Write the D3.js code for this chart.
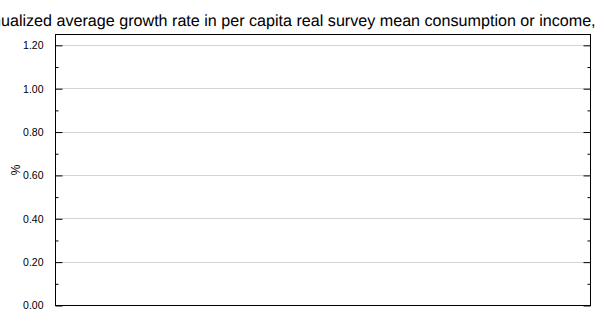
<!DOCTYPE html>
<html>
<head>
<meta charset="utf-8">
<script src="https://cdn.jsdelivr.net/npm/d3@7"></script>
<style>
  html, body { margin: 0; padding: 0; background: #fff; overflow: hidden; }
  svg { display: block; font-family: "Liberation Sans", Arial, sans-serif; }
</style>
</head>
<body>
<svg id="chart" width="600" height="315"></svg>
<script>
// ---- data (chart is empty in the reference) ----
const titleText = "Annualized average growth rate in per capita real survey mean consumption or income, total population (%)";
const yLabel = "%";
const categories = [];
const seriesValues = [];
const yMajorTicks = [0, 0.2, 0.4, 0.6, 0.8, 1.0, 1.2];
const yMinorTicks = [0.1, 0.3, 0.5, 0.7, 0.9, 1.1];
const yDomain = [0, 1.25];

const svg = d3.select("#chart");
const plotL = 55, plotR = 590, plotT = 34, plotB = 305;

const y = d3.scaleLinear().domain(yDomain).range([plotB, plotT]);
const x = d3.scaleBand().domain(categories).range([plotL, plotR]).padding(0.2);

// gridlines
svg.append("g").selectAll("line").data(yMajorTicks.filter(d => d > 0)).join("line")
  .attr("x1", plotL).attr("x2", plotR)
  .attr("y1", d => Math.round(y(d)) + 0.5).attr("y2", d => Math.round(y(d)) + 0.5)
  .attr("stroke", "#d4d4d4").attr("stroke-width", 1);

// bars (none)
svg.append("g").selectAll("rect").data(seriesValues).join("rect")
  .attr("x", (d, i) => x(categories[i])).attr("width", x.bandwidth())
  .attr("y", d => y(d)).attr("height", d => y(0) - y(d)).attr("fill", "#4472c4");

// axes via d3
const fmt = d3.format(".2f");
const leftAxis = d3.axisLeft(y).tickValues(yMajorTicks).tickFormat(fmt).tickSize(-7).tickPadding(12);
const gl = svg.append("g").attr("transform", `translate(${plotL + 0.5},0.5)`).call(leftAxis);
gl.select(".domain").remove();
gl.selectAll("line").attr("stroke", "#000");
gl.selectAll("text").attr("font-size", "10.5px").attr("fill", "#000")
  .attr("font-family", '"Liberation Sans", Arial, sans-serif');

const leftMinor = d3.axisLeft(y).tickValues(yMinorTicks).tickFormat("").tickSize(-3);
const glm = svg.append("g").attr("transform", `translate(${plotL + 0.5},0.5)`).call(leftMinor);
glm.select(".domain").remove();
glm.selectAll("line").attr("stroke", "#000");

const rightAxis = d3.axisRight(y).tickValues(yMajorTicks).tickFormat("").tickSize(-7);
const gr = svg.append("g").attr("transform", `translate(${plotR + 0.5},0.5)`).call(rightAxis);
gr.select(".domain").remove();
gr.selectAll("line").attr("stroke", "#000");
const rightMinor = d3.axisRight(y).tickValues(yMinorTicks).tickFormat("").tickSize(-3);
const grm = svg.append("g").attr("transform", `translate(${plotR + 0.5},0.5)`).call(rightMinor);
grm.select(".domain").remove();
grm.selectAll("line").attr("stroke", "#000");

// frame
svg.append("rect").attr("x", plotL + 0.5).attr("y", plotT + 0.5)
  .attr("width", plotR - plotL).attr("height", plotB - plotT)
  .attr("fill", "none").attr("stroke", "#000").attr("stroke-width", 1);

// y label
svg.append("text").attr("transform", "translate(20,170) rotate(-90)")
  .attr("text-anchor", "middle").attr("font-size", "12px").attr("fill", "#000").text(yLabel);

// title: sized so that "ualized ... income," spans ~x=1..596 as in the reference
const t = svg.append("text").attr("y", 26).attr("font-size", "16px")
  .attr("text-rendering", "geometricPrecision").attr("fill", "#000");
t.text("Ann");
const annW16 = t.node().getComputedTextLength();
t.text("Annualized average growth rate in per capita real survey mean consumption or income,");
const visW16 = t.node().getComputedTextLength() - annW16;
const fs = 16 * 595 / visW16;
t.attr("font-size", fs + "px").text("Ann");
const annW = t.node().getComputedTextLength();
t.text(titleText).attr("x", 1 - annW);
</script>
</body>
</html>
